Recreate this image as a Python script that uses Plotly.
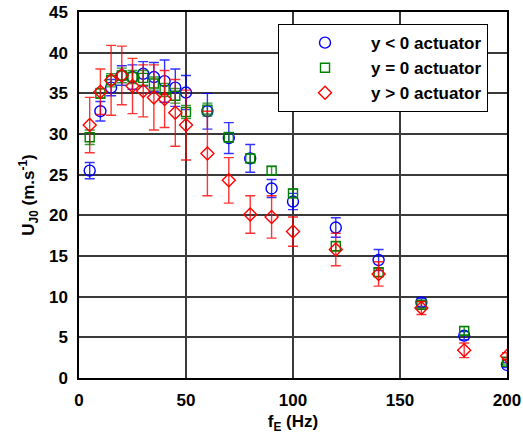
import plotly.graph_objects as go

# Excitation frequency (Hz)
freq = [5, 10, 15, 20, 25, 30, 35, 40, 45, 50, 60, 70, 80, 90, 100, 120, 140, 160, 180, 200]

# Jet velocity U_J0 (m/s) and its spread, for each actuator position
u_neg = [25.5, 32.8, 35.7, 37.2, 37.0, 37.4, 37.0, 36.5, 35.7, 35.1, 32.8, 29.5, 27.0, 23.3, 21.7, 18.5, 14.5, 9.3, 5.2, 1.6]
e_neg = [1.0, 1.2, 1.0, 1.2, 1.5, 1.5, 1.8, 2.6, 2.3, 2.1, 2.2, 1.9, 1.7, 1.1, 1.0, 1.2, 1.3, 0.5, 0.5, 0.3]

u_zero = [29.6, 35.0, 36.6, 37.2, 37.0, 36.9, 36.2, 35.4, 34.7, 32.7, 33.0, 29.6, 27.0, 25.5, 22.7, 16.2, 13.0, 9.0, 5.8, 2.0]
e_zero = [0.9, 0.6, 0.8, 0.9, 0.8, 0.9, 0.8, 0.8, 0.9, 0.8, 0.8, 0.6, 0.5, 0.5, 0.5, 0.6, 0.5, 0.4, 0.5, 0.3]

u_pos = [31.1, 35.2, 36.6, 37.2, 35.9, 35.3, 34.5, 34.3, 32.6, 31.1, 27.6, 24.3, 20.1, 19.8, 18.0, 15.8, 12.8, 8.6, 3.4, 2.7]
e_pos = [3.4, 2.8, 4.3, 3.6, 3.4, 3.2, 4.0, 3.5, 4.1, 4.3, 5.2, 2.8, 2.3, 2.6, 1.8, 2.0, 1.5, 0.8, 0.9, 0.4]

names = ["y < 0 actuator", "y = 0 actuator", "y > 0 actuator"]
x_ticks = [0, 50, 100, 150, 200]
y_ticks = [0, 5, 10, 15, 20, 25, 30, 35, 40, 45]

FONT = "Liberation Sans, Arial, sans-serif"

series = [
    (u_neg, e_neg, names[0], "circle-open", 11, "rgb(0,0,255)", "rgba(0,0,255,0.8)"),
    (u_zero, e_zero, names[1], "square-open", 9, "rgb(0,128,0)", "rgba(0,128,0,0.8)"),
    (u_pos, e_pos, names[2], "diamond-open", 10, "rgb(255,0,0)", "rgba(255,0,0,0.8)"),
]

fig = go.Figure()
for vals, errs, name, sym, size, col, ecol in series:
    fig.add_trace(go.Scatter(
        x=freq, y=vals, name=name, mode="markers",
        marker=dict(symbol=sym, size=size, color=col, line=dict(width=1.4, color=col)),
        error_y=dict(type="data", array=errs, visible=True, color=ecol, thickness=1.4, width=5),
    ))

axis_common = dict(
    showline=True, linecolor="black", linewidth=1.5, mirror=True,
    showgrid=True, gridcolor="#3a3a3a", gridwidth=1.5,
    zeroline=False, ticks="", ticklabelstandoff=6, automargin=False,
    tickfont=dict(family=FONT, size=17, color="black", weight="bold"),
)

fig.update_xaxes(
    range=[0, 200], tickvals=x_ticks,
    title=dict(text="f<sub>E</sub> (Hz)", font=dict(family=FONT, size=17, color="black", weight="bold"), standoff=6),
    **axis_common,
)
fig.update_yaxes(
    range=[0, 45], tickvals=y_ticks,
    title=dict(text="U<sub>J0</sub> (m.s<sup>-1</sup>)", font=dict(family=FONT, size=17, color="black", weight="bold"), standoff=10),
    **axis_common,
)

fig.update_layout(
    width=523, height=437,
    margin=dict(l=79, r=16, t=12, b=59),
    paper_bgcolor="white", plot_bgcolor="white",
    legend=dict(
        x=0.465, y=0.967, xanchor="left", yanchor="top",
        bgcolor="white", bordercolor="black", borderwidth=1,
        font=dict(family=FONT, size=17, color="black", weight="bold"),
        itemwidth=82,
    ),
    showlegend=True,
)

fig.write_html("out.html")
